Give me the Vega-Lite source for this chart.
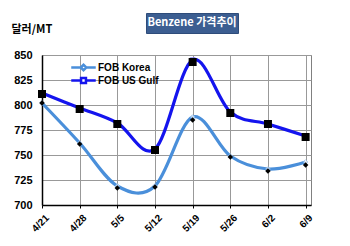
{
  "$schema": "https://vega.github.io/schema/vega-lite/v6.json",
  "background": "white",
  "padding": {"left": 10, "top": 12, "right": 5, "bottom": 5},
  "bounds": "flush",
  "spacing": 42,
  "config": {"view": {"stroke": null}, "font": "Liberation Sans"},
  "vconcat": [
    {
      "spacing": 0,
      "bounds": "flush",
      "hconcat": [
        {
          "width": 104, "height": 20,
          "data": {"values": [{"t": ""}]},
          "mark": {"type": "text"},
          "encoding": {"text": {"field": "t"}}
        },
        {
          "width": 92, "height": 20,
          "view": {"fill": "#3C5E91", "stroke": "#2E4C7A"},
          "data": {"values": [{"t": "Benzene 가격추이"}]},
          "mark": {"type": "text", "font": "Noto Sans CJK KR", "fontWeight": "bold", "fontSize": 11, "color": "white", "baseline": "middle", "align": "center"},
          "encoding": {"text": {"field": "t"}}
        }
      ]
    },
    {
      "width": 269,
      "height": 150,
      "view": {"stroke": "#808080", "strokeWidth": 1},
      "data": {"values": [
        {"date": "2017-04-21", "series": "FOB Korea", "v": 802, "m": 802},
        {"date": "2017-04-28", "series": "FOB Korea", "v": 762, "m": 761},
        {"date": "2017-05-05", "series": "FOB Korea", "v": 719, "m": 717},
        {"date": "2017-05-12", "series": "FOB Korea", "v": 719, "m": 718},
        {"date": "2017-05-19", "series": "FOB Korea", "v": 788, "m": 785},
        {"date": "2017-05-26", "series": "FOB Korea", "v": 749, "m": 748},
        {"date": "2017-06-02", "series": "FOB Korea", "v": 736, "m": 734},
        {"date": "2017-06-09", "series": "FOB Korea", "v": 743, "m": 740},
        {"date": "2017-04-21", "series": "FOB US Gulf", "v": 812, "m": 811},
        {"date": "2017-04-28", "series": "FOB US Gulf", "v": 797, "m": 796},
        {"date": "2017-05-05", "series": "FOB US Gulf", "v": 782, "m": 781},
        {"date": "2017-05-12", "series": "FOB US Gulf", "v": 756, "m": 755},
        {"date": "2017-05-19", "series": "FOB US Gulf", "v": 845, "m": 843},
        {"date": "2017-05-26", "series": "FOB US Gulf", "v": 793, "m": 792},
        {"date": "2017-06-02", "series": "FOB US Gulf", "v": 781, "m": 781},
        {"date": "2017-06-09", "series": "FOB US Gulf", "v": 769, "m": 768}
      ]},
      "encoding": {
        "x": {
          "field": "date", "type": "temporal",
          "scale": {"type": "utc", "domain": [{"year": 2017, "month": 4, "date": 21, "utc": true}, {"year": 2017, "month": 6, "date": 10, "utc": true}]},
          "axis": {
            "title": null,
            "values": [
              {"year": 2017, "month": 4, "date": 21, "utc": true},
              {"year": 2017, "month": 4, "date": 28, "utc": true},
              {"year": 2017, "month": 5, "date": 5, "utc": true},
              {"year": 2017, "month": 5, "date": 12, "utc": true},
              {"year": 2017, "month": 5, "date": 19, "utc": true},
              {"year": 2017, "month": 5, "date": 26, "utc": true},
              {"year": 2017, "month": 6, "date": 2, "utc": true},
              {"year": 2017, "month": 6, "date": 9, "utc": true}
            ],
            "format": "%-m/%-d",
            "labelAngle": -45, "labelAlign": "right", "labelBaseline": "middle",
            "labelFont": "Liberation Sans", "labelFontWeight": "bold", "labelFontSize": 10, "labelColor": "black",
            "labelPadding": 8, "labelOffset": 5,
            "tickSize": 3, "tickColor": "black",
            "domainColor": "black", "domainWidth": 1.5,
            "grid": true, "gridColor": "#999999", "gridWidth": 1
          }
        },
        "y": {
          "type": "quantitative",
          "scale": {"domain": [700, 850], "nice": false, "zero": false},
          "axis": {
            "title": "달러/MT",
            "titleAngle": 0, "titleAlign": "left", "titleBaseline": "middle",
            "titleX": -31, "titleY": -26,
            "titleFont": "Noto Sans CJK KR", "titleFontWeight": "bold", "titleFontSize": 11, "titleColor": "black",
            "values": [700, 725, 750, 775, 800, 825, 850],
            "labelFont": "Liberation Sans", "labelFontWeight": "bold", "labelFontSize": 11, "labelColor": "black",
            "labelPadding": 10, "ticks": false,
            "domainColor": "black", "domainWidth": 1.5,
            "grid": true, "gridColor": "#999999", "gridWidth": 1
          }
        }
      },
      "layer": [
        {
          "mark": {"type": "line", "interpolate": "cardinal", "strokeWidth": 3.2},
          "encoding": {
            "y": {"field": "v"},
            "color": {
              "field": "series", "type": "nominal",
              "scale": {"domain": ["FOB Korea", "FOB US Gulf"], "range": ["#4A8FDA", "#1414EE"]},
              "legend": {
                "title": null, "orient": "none", "legendX": 28, "legendY": 49,
                "labelFont": "Liberation Sans", "labelFontWeight": "bold", "labelFontSize": 10, "labelColor": "black",
                "symbolSize": 600, "labelOffset": 1, "rowPadding": 2, "clipHeight": 11,
                "symbolStrokeWidth": 2.5,
                "symbolFillColor": "white",
                "encode": {"symbols": {"update": {
                  "shape": {"signal": "datum.value === 'FOB Korea' ? 'M-1,0L-0.22,0L0,-0.22L0.22,0L1,0L0.22,0L0,0.22L-0.22,0Z' : 'M-1,0L-0.2,0L-0.2,-0.2L0.2,-0.2L0.2,0L1,0L0.2,0L0.2,0.2L-0.2,0.2L-0.2,0Z'"},
                  "fill": {"value": "white"},
                  "fillOpacity": {"value": 1}
                }}}
              }
            }
          }
        },
        {
          "mark": {"type": "point", "filled": true, "fill": "white", "strokeWidth": 1, "size": 22},
          "encoding": {
            "y": {"field": "v"},
            "stroke": {"field": "series", "type": "nominal", "scale": {"domain": ["FOB Korea", "FOB US Gulf"], "range": ["#9CC3EE", "#6A6AF5"]}, "legend": null},
            "shape": {"condition": {"test": "datum.series === 'FOB Korea'", "value": "diamond"}, "value": "square"}
          }
        },
        {
          "mark": {"type": "point", "filled": true, "color": "black", "opacity": 1},
          "encoding": {
            "y": {"field": "m"},
            "shape": {"condition": {"test": "datum.series === 'FOB Korea'", "value": "diamond"}, "value": "square"},
            "size": {"condition": {"test": "datum.series === 'FOB Korea'", "value": 30}, "value": 64}
          }
        }
      ]
    }
  ]
}
